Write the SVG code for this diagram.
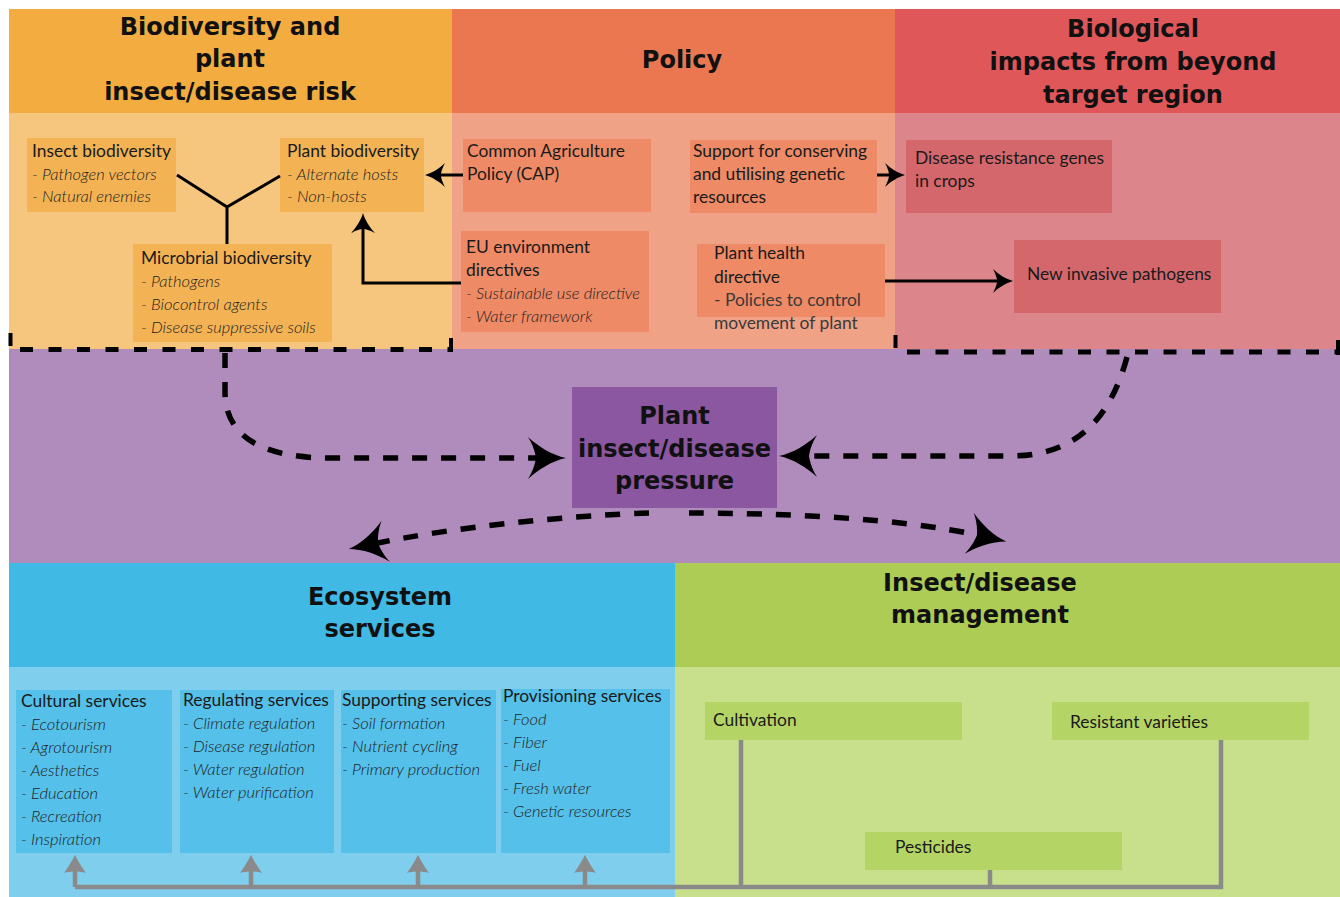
<svg xmlns="http://www.w3.org/2000/svg" width="1340" height="897" viewBox="0 0 1340 897">
<defs>
<style>
.h{font-family:'DejaVu Sans',sans-serif;font-weight:bold;font-size:24px;fill:#111;text-anchor:middle}
.t{font-family:Lato,'Liberation Sans',sans-serif;font-size:17.4px;fill:#1a1a1a}
.i{font-family:Lato,'Liberation Sans',sans-serif;font-size:16.5px;font-style:italic;font-weight:300;fill:#1e1e1e}
.g{fill:#3a3a3a}
.blk{fill:none;stroke:#000;stroke-width:3}
.dash{fill:none;stroke:#000;stroke-width:5.5;stroke-dasharray:15 14}
.edge{fill:none;stroke:#000;stroke-width:5;stroke-dasharray:13 15.5}
.tick{fill:none;stroke:#000;stroke-width:4}
.gray{fill:none;stroke:#8a8a8a;stroke-width:4.5}
</style>
<marker id="big" markerUnits="userSpaceOnUse" markerWidth="80" markerHeight="80" viewBox="-40 -40 80 80" refX="0" refY="0" orient="auto">
<path d="M30,0 C16,-3 3,-11 -8,-21 C-3,-13 -1,-6 0,0 C-1,6 -3,13 -8,21 C3,11 16,3 30,0Z" fill="#000"/>
</marker>
<marker id="sm" markerUnits="userSpaceOnUse" markerWidth="40" markerHeight="40" viewBox="-20 -20 40 40" refX="0" refY="0" orient="auto">
<path d="M16,0 C9,-2 1,-7 -4,-12 C-1,-6 0,-3 0,0 C0,3 -1,6 -4,12 C1,7 9,2 16,0Z" fill="#000"/>
</marker>
<marker id="gr" markerUnits="userSpaceOnUse" markerWidth="40" markerHeight="40" viewBox="-20 -20 40 40" refX="0" refY="0" orient="auto">
<path d="M16,0 C10,-3 2,-8 -2,-11 C0,-5 0,5 -2,11 C2,8 10,3 16,0Z" fill="#8a8a8a"/>
</marker>
</defs>

<g id="sec-biodiversity">
<rect x="9" y="9" width="443" height="104" fill="#F2AC40"/>
<rect x="9" y="113" width="443" height="236" fill="#F6C67E"/>
<text class="h" x="230" y="35">Biodiversity and</text>
<text class="h" x="230" y="67">plant</text>
<text class="h" x="230" y="100">insect/disease risk</text>
</g>
<g id="sec-policy">
<rect x="452" y="9" width="443" height="104" fill="#EB7751"/>
<rect x="452" y="113" width="443" height="236" fill="#F0A286"/>
<text class="h" x="682" y="68">Policy</text>
</g>
<g id="sec-biological">
<rect x="895" y="9" width="445" height="104" fill="#E0575A"/>
<rect x="895" y="113" width="445" height="236" fill="#DC868B"/>
<text class="h" x="1133" y="37">Biological</text>
<text class="h" x="1133" y="70">impacts from beyond</text>
<text class="h" x="1133" y="103">target region</text>
</g>
<g id="sec-pressure-band">
<rect x="9" y="349" width="1331" height="214" fill="#B08CBD"/>
</g>
<g id="sec-ecosystem">
<rect x="9" y="563" width="666" height="104" fill="#40B9E5"/>
<rect x="9" y="667" width="666" height="230" fill="#7FCEEE"/>
<text class="h" x="380" y="605">Ecosystem</text>
<text class="h" x="380" y="637">services</text>
</g>
<g id="sec-management">
<rect x="675" y="563" width="665" height="104" fill="#ACCC55"/>
<rect x="675" y="667" width="665" height="230" fill="#C8DF8B"/>
<text class="h" x="980" y="591">Insect/disease</text>
<text class="h" x="980" y="623">management</text>
</g>

<g id="node-insect">
<rect x="27" y="138" width="149" height="74" fill="#F3B355"/>
<text class="t" x="32" y="157">Insect biodiversity</text>
<text class="i" x="32" y="180">- Pathogen vectors</text>
<text class="i" x="32" y="202">- Natural enemies</text>
</g>
<g id="node-plant">
<rect x="280" y="138" width="144" height="74" fill="#F3B355"/>
<text class="t" x="287" y="157">Plant biodiversity</text>
<text class="i" x="287" y="180">- Alternate hosts</text>
<text class="i" x="287" y="202">- Non-hosts</text>
</g>
<g id="node-microbial">
<rect x="133" y="244" width="199" height="98" fill="#F3B355"/>
<text class="t" x="141" y="264">Microbrial biodiversity</text>
<text class="i" x="141" y="287">- Pathogens</text>
<text class="i" x="141" y="310">- Biocontrol agents</text>
<text class="i" x="141" y="333">- Disease suppressive soils</text>
</g>
<g id="node-cap">
<rect x="463" y="139" width="188" height="73" fill="#EE8A66"/>
<text class="t" x="467" y="157">Common Agriculture</text>
<text class="t" x="467" y="180">Policy (CAP)</text>
</g>
<g id="node-support">
<rect x="690" y="140" width="187" height="73" fill="#EE8A66"/>
<text class="t" x="693" y="157">Support for conserving</text>
<text class="t" x="693" y="180">and utilising genetic</text>
<text class="t" x="693" y="203">resources</text>
</g>
<g id="node-eu">
<rect x="461" y="231" width="188" height="101" fill="#EE8A66"/>
<text class="t" x="466" y="253">EU environment</text>
<text class="t" x="466" y="276">directives</text>
<text class="i" x="466" y="299">- Sustainable use directive</text>
<text class="i" x="466" y="322">- Water framework</text>
</g>
<g id="node-planthealth">
<rect x="697" y="244" width="188" height="73" fill="#EE8A66"/>
<text class="t" x="714" y="259">Plant health</text>
<text class="t" x="714" y="283">directive</text>
<text class="t g" x="714" y="306">- Policies to control</text>
<text class="t g" x="714" y="329">movement of plant</text>
</g>
<g id="node-resistance">
<rect x="906" y="140" width="206" height="73" fill="#D4676C"/>
<text class="t" x="915" y="164">Disease resistance genes</text>
<text class="t" x="915" y="187">in crops</text>
</g>
<g id="node-invasive">
<rect x="1014" y="240" width="207" height="73" fill="#D4676C"/>
<text class="t" x="1027" y="280">New invasive pathogens</text>
</g>
<g id="node-pressure">
<rect x="572" y="387" width="205" height="121" fill="#8A57A0"/>
<text class="h" x="674.5" y="424">Plant</text>
<text class="h" x="674.5" y="457">insect/disease</text>
<text class="h" x="674.5" y="489">pressure</text>
</g>
<g id="node-cultural">
<rect x="16" y="690" width="156" height="163" fill="#55C0E9"/>
<text class="t" x="21" y="707">Cultural services</text>
<text class="i" x="21" y="730">- Ecotourism</text>
<text class="i" x="21" y="753">- Agrotourism</text>
<text class="i" x="21" y="776">- Aesthetics</text>
<text class="i" x="21" y="799">- Education</text>
<text class="i" x="21" y="822">- Recreation</text>
<text class="i" x="21" y="845">- Inspiration</text>
</g>
<g id="node-regulating">
<rect x="180" y="690" width="154" height="163" fill="#55C0E9"/>
<text class="t" x="183" y="706">Regulating services</text>
<text class="i" x="183" y="729">- Climate regulation</text>
<text class="i" x="183" y="752">- Disease regulation</text>
<text class="i" x="183" y="775">- Water regulation</text>
<text class="i" x="183" y="798">- Water purification</text>
</g>
<g id="node-supporting">
<rect x="341" y="690" width="155" height="163" fill="#55C0E9"/>
<text class="t" x="342" y="706">Supporting services</text>
<text class="i" x="342" y="729">- Soil formation</text>
<text class="i" x="342" y="752">- Nutrient cycling</text>
<text class="i" x="342" y="775">- Primary production</text>
</g>
<g id="node-provisioning">
<rect x="501" y="689" width="169" height="164" fill="#55C0E9"/>
<text class="t" x="503" y="702">Provisioning services</text>
<text class="i" x="503" y="725">- Food</text>
<text class="i" x="503" y="748">- Fiber</text>
<text class="i" x="503" y="771">- Fuel</text>
<text class="i" x="503" y="794">- Fresh water</text>
<text class="i" x="503" y="817">- Genetic resources</text>
</g>
<g id="node-cultivation">
<rect x="705" y="702" width="257" height="38" fill="#B4D466"/>
<text class="t" x="713" y="726">Cultivation</text>
</g>
<g id="node-resistant">
<rect x="1052" y="702" width="257" height="38" fill="#B4D466"/>
<text class="t" x="1070" y="728">Resistant varieties</text>
</g>
<g id="node-pesticides">
<rect x="865" y="832" width="257" height="38" fill="#B4D466"/>
<text class="t" x="895" y="853">Pesticides</text>
</g>

<g id="connectors">
<path class="edge" d="M20,349.5 L452,349.5"/>
<path class="tick" d="M10.5,333 V346 M451,338 V352"/>
<path class="edge" d="M907,352 L1338,352"/>
<path class="tick" d="M895.5,335 V348 M1338,340 V355"/>
<path class="blk" d="M177,175 L227,207 L280,176 M227,207 V244"/>
<path class="blk" d="M463,175 H441" marker-end="url(#sm)"/>
<path class="blk" d="M461,283 H363 V229" marker-end="url(#sm)"/>
<path class="blk" d="M877,175 H889" marker-end="url(#sm)"/>
<path class="blk" d="M885,281 H997" marker-end="url(#sm)"/>
<path class="dash" d="M225,353 L225,392 C225,440 268,458 330,458 L536,458" marker-end="url(#big)"/>
<path class="dash" d="M1127,357 C1110,420 1075,456 1010,456 L809,456" marker-end="url(#big)"/>
<path class="dash" d="M649,513 C560,516 450,528 378,543" marker-end="url(#big)"/>
<path class="dash" d="M689,513 C780,513 900,518 977,535" marker-end="url(#big)"/>
<path class="gray" d="M75,887 H1221 V740 M741,740 V887 M990,870 V887"/>
<path class="gray" d="M75,887 V871" marker-end="url(#gr)"/>
<path class="gray" d="M251,887 V871" marker-end="url(#gr)"/>
<path class="gray" d="M418,887 V871" marker-end="url(#gr)"/>
<path class="gray" d="M585,887 V871" marker-end="url(#gr)"/>
</g>
</svg>
